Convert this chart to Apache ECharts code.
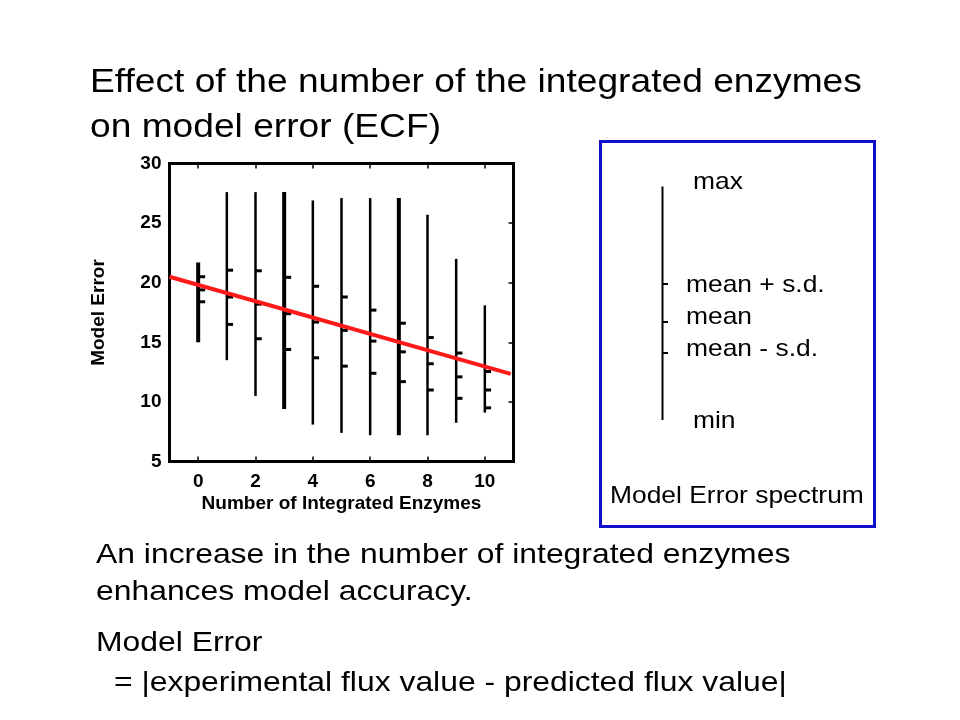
<!DOCTYPE html>
<html>
<head>
<meta charset="utf-8">
<script src="https://cdn.jsdelivr.net/npm/echarts@6/dist/echarts.min.js"></script>
<style>
html,body{margin:0;padding:0;background:#fff;}
#main{width:960px;height:720px;}
</style>
</head>
<body>
<div id="main"></div>
<script>
// ---- data ----
const enzymeCounts = [0, 1, 2, 3, 4, 5, 6, 7, 8, 9, 10];
const maxError     = [21.7, 27.6, 27.6, 27.6, 26.9, 27.1, 27.1, 27.1, 25.7, 22.0, 18.1];
const meanPlusSd   = [20.5, 21.05, 21.0, 20.45, 19.7, 18.8, 17.7, 16.6, 15.4, 14.1, 12.55];
const meanError    = [19.4, 18.8, 18.2, 17.4, 16.7, 16.0, 15.1, 14.2, 13.2, 12.1, 11.0];
const meanMinusSd  = [18.4, 16.5, 15.3, 14.4, 13.7, 13.0, 12.4, 11.7, 11.0, 10.3, 9.5];
const minError     = [15.0, 13.5, 10.5, 9.4, 8.1, 7.4, 7.2, 7.2, 7.2, 8.25, 9.1];
const trendX = [-1, 10.9];
const trendY = [20.5, 12.35];
const xTickValues = [0, 2, 4, 6, 8, 10];
const yMin = 5, yMax = 30, yStep = 5;
const xMin = -1, xMax = 11;

// ---- style config (not data) ----
const heavyBars = [0, 3, 7];
const FONT = '"Liberation Sans", Arial, sans-serif';

const spectrumData = enzymeCounts.map((x, i) =>
  [x, minError[i], maxError[i], meanMinusSd[i], meanError[i], meanPlusSd[i]]);
const trendData = trendX.map((x, i) => [x, trendY[i]]);

function renderSpectrum(params, api) {
  const x = api.value(0);
  const pMin = api.coord([x, api.value(1)]);
  const pMax = api.coord([x, api.value(2)]);
  const marks = [3, 4, 5].map(k => api.coord([x, api.value(k)]));
  const w = heavyBars.indexOf(params.dataIndex) >= 0 ? 4 : 2.5;
  const children = [{
    type: 'line',
    shape: { x1: pMin[0], y1: pMin[1], x2: pMax[0], y2: pMax[1] },
    style: { stroke: '#000', lineWidth: w }
  }];
  marks.forEach(p => {
    children.push({
      type: 'line',
      shape: { x1: p[0], y1: p[1], x2: p[0] + 5 + w / 2, y2: p[1] },
      style: { stroke: '#000', lineWidth: 3 }
    });
  });
  return { type: 'group', children };
}

function txt(x, y, s, size, sx) {
  return {
    type: 'text', x: x, y: y, scaleX: sx,
    style: { text: s, x: 0, y: 0, font: size + 'px ' + FONT, fill: '#000',
             textAlign: 'left', textVerticalAlign: 'middle' }
  };
}

const chart = echarts.init(document.getElementById('main'), null, { renderer: 'canvas' });
chart.setOption({
  backgroundColor: '#fff',
  animation: false,
  grid: {
    left: 169.5, right: 446.5, top: 163.5, bottom: 258.5,
    show: true, borderColor: '#000', borderWidth: 3, backgroundColor: 'transparent'
  },
  xAxis: [{
    type: 'value', min: xMin, max: xMax, position: 'bottom',
    axisLine: { show: false, onZero: false },
    splitLine: { show: false },
    axisTick: { show: true, inside: true, length: 5, customValues: xTickValues,
                lineStyle: { color: '#000', width: 1.5 } },
    axisLabel: { customValues: xTickValues, margin: 11, color: '#000',
                 fontWeight: 'bold', fontSize: 19, fontFamily: FONT },
    name: 'Number of Integrated Enzymes', nameLocation: 'middle', nameGap: 33,
    nameTextStyle: { color: '#000', fontWeight: 'bold', fontSize: 19, fontFamily: FONT }
  }, {
    type: 'value', min: xMin, max: xMax, position: 'top',
    axisLine: { show: false, onZero: false }, splitLine: { show: false },
    axisTick: { show: true, inside: true, length: 5, customValues: xTickValues,
                lineStyle: { color: '#000', width: 1.5 } },
    axisLabel: { show: false }
  }],
  yAxis: [{
    type: 'value', min: yMin, max: yMax, interval: yStep, position: 'left',
    axisLine: { show: false, onZero: false }, splitLine: { show: false },
    axisTick: { show: false },
    axisLabel: { margin: 8, color: '#000', fontWeight: 'bold', fontSize: 19, fontFamily: FONT },
    name: 'Model Error', nameLocation: 'middle', nameGap: 61, nameRotate: 90,
    nameTextStyle: { color: '#000', fontWeight: 'bold', fontSize: 19, fontFamily: FONT }
  }, {
    type: 'value', min: yMin, max: yMax, interval: yStep, position: 'right',
    axisLine: { show: false, onZero: false }, splitLine: { show: false },
    axisTick: { show: true, inside: true, length: 5, lineStyle: { color: '#000', width: 1.5 } },
    axisLabel: { show: false }
  }],
  series: [{
    type: 'custom',
    xAxisIndex: 0, yAxisIndex: 0,
    renderItem: renderSpectrum,
    encode: { x: 0, y: [1, 2] },
    data: spectrumData,
    z: 2
  }, {
    type: 'line',
    xAxisIndex: 0, yAxisIndex: 0,
    data: trendData,
    symbol: 'none',
    lineStyle: { color: '#ff1a1a', width: 4 },
    z: 3
  }],
  graphic: [
    txt(90, 83, 'Effect of the number of the integrated enzymes', 33, 1.126),
    txt(90, 128, 'on model error (ECF)', 33, 1.126),
    txt(96, 555.5, 'An increase in the number of integrated enzymes', 28, 1.138),
    txt(96, 592.5, 'enhances model accuracy.', 28, 1.138),
    txt(96, 643.5, 'Model Error', 28, 1.138),
    txt(114, 683, '= |experimental flux value - predicted flux value|', 28, 1.138),
    {
      type: 'rect', shape: { x: 600.5, y: 141.5, width: 274, height: 385 },
      style: { fill: 'none', stroke: '#1010cc', lineWidth: 3 }
    },
    { type: 'line', shape: { x1: 662.5, y1: 186.5, x2: 662.5, y2: 420 },
      style: { stroke: '#000', lineWidth: 2 } },
    { type: 'line', shape: { x1: 662, y1: 284, x2: 668, y2: 284 }, style: { stroke: '#000', lineWidth: 2 } },
    { type: 'line', shape: { x1: 662, y1: 322, x2: 668, y2: 322 }, style: { stroke: '#000', lineWidth: 2 } },
    { type: 'line', shape: { x1: 662, y1: 353, x2: 668, y2: 353 }, style: { stroke: '#000', lineWidth: 2 } },
    txt(693, 182.5, 'max', 24, 1.1),
    txt(686, 285.5, 'mean + s.d.', 24, 1.1),
    txt(686, 317.5, 'mean', 24, 1.1),
    txt(686, 349, 'mean - s.d.', 24, 1.1),
    txt(693, 421, 'min', 24, 1.1),
    txt(610, 496.6, 'Model Error spectrum', 24, 1.1)
  ]
});
</script>
</body>
</html>
